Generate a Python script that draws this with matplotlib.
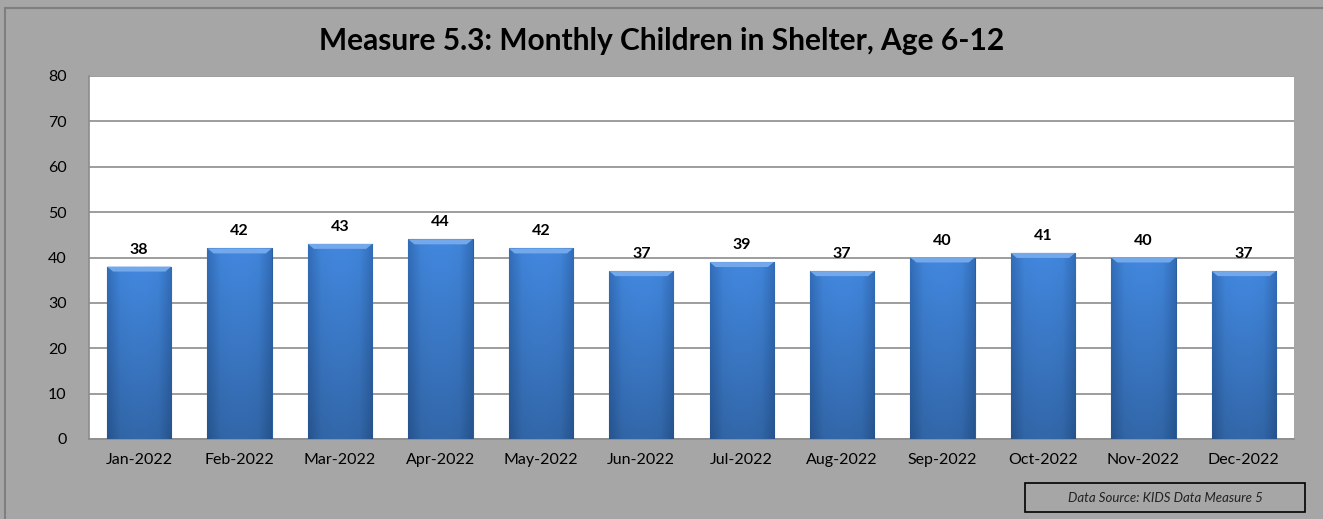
import numpy as np
import matplotlib.pyplot as plt
from matplotlib.patches import Rectangle, Polygon
from matplotlib.colors import LinearSegmentedColormap

# Data
months = ['Jan-2022', 'Feb-2022', 'Mar-2022', 'Apr-2022', 'May-2022', 'Jun-2022',
          'Jul-2022', 'Aug-2022', 'Sep-2022', 'Oct-2022', 'Nov-2022', 'Dec-2022']
children = [38, 42, 43, 44, 42, 37, 39, 37, 40, 41, 40, 37]
y_ticks = [0, 10, 20, 30, 40, 50, 60, 70, 80]

plt.rcParams['font.family'] = ['Lato', 'DejaVu Sans']

fig = plt.figure(figsize=(13.23, 5.19), dpi=100)
fig.patch.set_facecolor('#A6A6A6')

# outer border (top and left only visible)
fig.add_artist(plt.Line2D([5 / 1323, 5 / 1323], [0, 1 - 8 / 519], transform=fig.transFigure,
                          color='#7F7F7F', linewidth=1.5))
fig.add_artist(plt.Line2D([5 / 1323, 1.01], [1 - 8 / 519, 1 - 8 / 519], transform=fig.transFigure,
                          color='#7F7F7F', linewidth=1.5))

ax = fig.add_axes([89 / 1323, 1 - 439 / 519, (1294 - 89) / 1323, (439 - 76) / 519])
ax.set_facecolor('white')

x = np.arange(len(months))
bars = ax.bar(x, children, width=0.64, color='#3B7BCB', edgecolor='#2D5E9C',
              linewidth=0.8, zorder=3)

# bevel-like gradient on each bar
cmap = LinearSegmentedColormap.from_list(
    'bevel', ['#3068B0', '#3D7ECF', '#3F81D4', '#3F81D4', '#3D7ECF', '#3068B0'])
grad = np.linspace(0, 1, 64).reshape(1, -1)
for b in bars:
    bx, by, bw, bh = b.get_x(), b.get_y(), b.get_width(), b.get_height()
    vert = np.linspace(1.05, 0.8, 64).reshape(-1, 1)
    rgb = np.clip(cmap(np.tile(grad, (64, 1)))[:, :, :3] * vert[:, :, None], 0, 1)
    im = ax.imshow(rgb, extent=[bx, bx + bw, by, by + bh], aspect='auto',
                   origin='upper', zorder=3.5, interpolation='bilinear')
    im.set_clip_path(b)
    # light top bevel with slanted corners
    top = by + bh
    d = 1.1
    ax.add_patch(Polygon([(bx, top), (bx + bw, top), (bx + bw - 0.06, top - d),
                          (bx + 0.06, top - d)], closed=True,
                         facecolor='#73A8EA', edgecolor='none', zorder=4))
    ax.text(bx + bw / 2, bh + 2.2, f'{int(bh)}', ha='center', va='bottom',
            fontsize=11.5, fontweight='bold', color='black', zorder=5)

ax.set_ylim(0, 80)
ax.set_xlim(-0.5, len(months) - 0.5)
ax.set_yticks(y_ticks)
ax.set_yticklabels([str(v) for v in y_ticks], fontsize=11.5)
ax.set_xticks(x)
ax.set_xticklabels(months, fontsize=11.5)
ax.tick_params(axis='both', length=0, colors='black')
ax.tick_params(axis='y', pad=16)
ax.tick_params(axis='x', pad=10)
ax.grid(axis='y', color='#8C8C8C', linewidth=1.2, zorder=0)
ax.set_axisbelow(True)
for side in ['top', 'right']:
    ax.spines[side].set_visible(False)
for side in ['left', 'bottom']:
    ax.spines[side].set_color('#8C8C8C')
    ax.spines[side].set_linewidth(1.2)

fig.text(0.5, 1 - 41 / 519, 'Measure 5.3: Monthly Children in Shelter, Age 6-12',
         ha='center', va='center', fontsize=21.5, fontweight='bold', color='black')

# data source box
fig.add_artist(Rectangle((1025 / 1323, 1 - 512 / 519), 280 / 1323, 29 / 519,
                         transform=fig.transFigure, facecolor='none',
                         edgecolor='black', linewidth=1.2))
fig.text(1165 / 1323, 1 - 497.5 / 519, 'Data Source: KIDS Data Measure 5',
         ha='center', va='center', fontsize=9.5, style='italic', color='#222222')

fig.savefig('out.png', dpi=100, facecolor=fig.get_facecolor())
